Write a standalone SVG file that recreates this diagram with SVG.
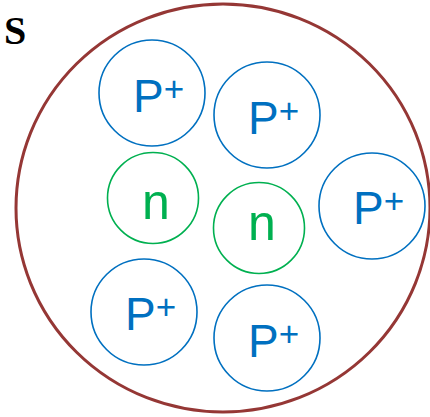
<svg xmlns="http://www.w3.org/2000/svg" width="430" height="417" viewBox="0 0 430 417">
<style>
.p{fill:none;stroke:#0070C0;stroke-width:1.6}
.nc{fill:none;stroke:#00B050;stroke-width:1.6}
.pt{font-family:"Liberation Sans",Arial,sans-serif;fill:#0070C0;font-size:46px}
.sup{font-size:35px}
.nt{font-family:"Liberation Sans",Arial,sans-serif;fill:#00B050;font-size:50px;text-anchor:middle}
</style>
<rect width="430" height="417" fill="#fff"/>
<g id="S"><text x="4" y="44" font-family="Liberation Serif,'Times New Roman',serif" font-size="40" font-weight="bold">S</text></g>
<g id="boundary"><ellipse cx="223" cy="208" rx="207" ry="204" fill="none" stroke="#953735" stroke-width="3"/></g>
<g id="p1"><circle class="p" cx="152" cy="93" r="53"/><text class="pt" x="133" y="112">P<tspan class="sup" dy="-11">+</tspan></text></g>
<g id="p2"><circle class="p" cx="267" cy="115" r="53"/><text class="pt" x="248" y="134">P<tspan class="sup" dy="-11">+</tspan></text></g>
<g id="n1"><circle class="nc" cx="153" cy="198" r="45.5"/><text class="nt" x="156" y="219">n</text></g>
<g id="n2"><circle class="nc" cx="259" cy="228" r="45.5"/><text class="nt" x="262" y="240">n</text></g>
<g id="p3"><circle class="p" cx="372" cy="206" r="53"/><text class="pt" x="353" y="224">P<tspan class="sup" dy="-11">+</tspan></text></g>
<g id="p4"><circle class="p" cx="144" cy="312" r="53"/><text class="pt" x="125" y="330">P<tspan class="sup" dy="-11">+</tspan></text></g>
<g id="p5"><circle class="p" cx="267" cy="338" r="53"/><text class="pt" x="248" y="357">P<tspan class="sup" dy="-11">+</tspan></text></g>
</svg>
